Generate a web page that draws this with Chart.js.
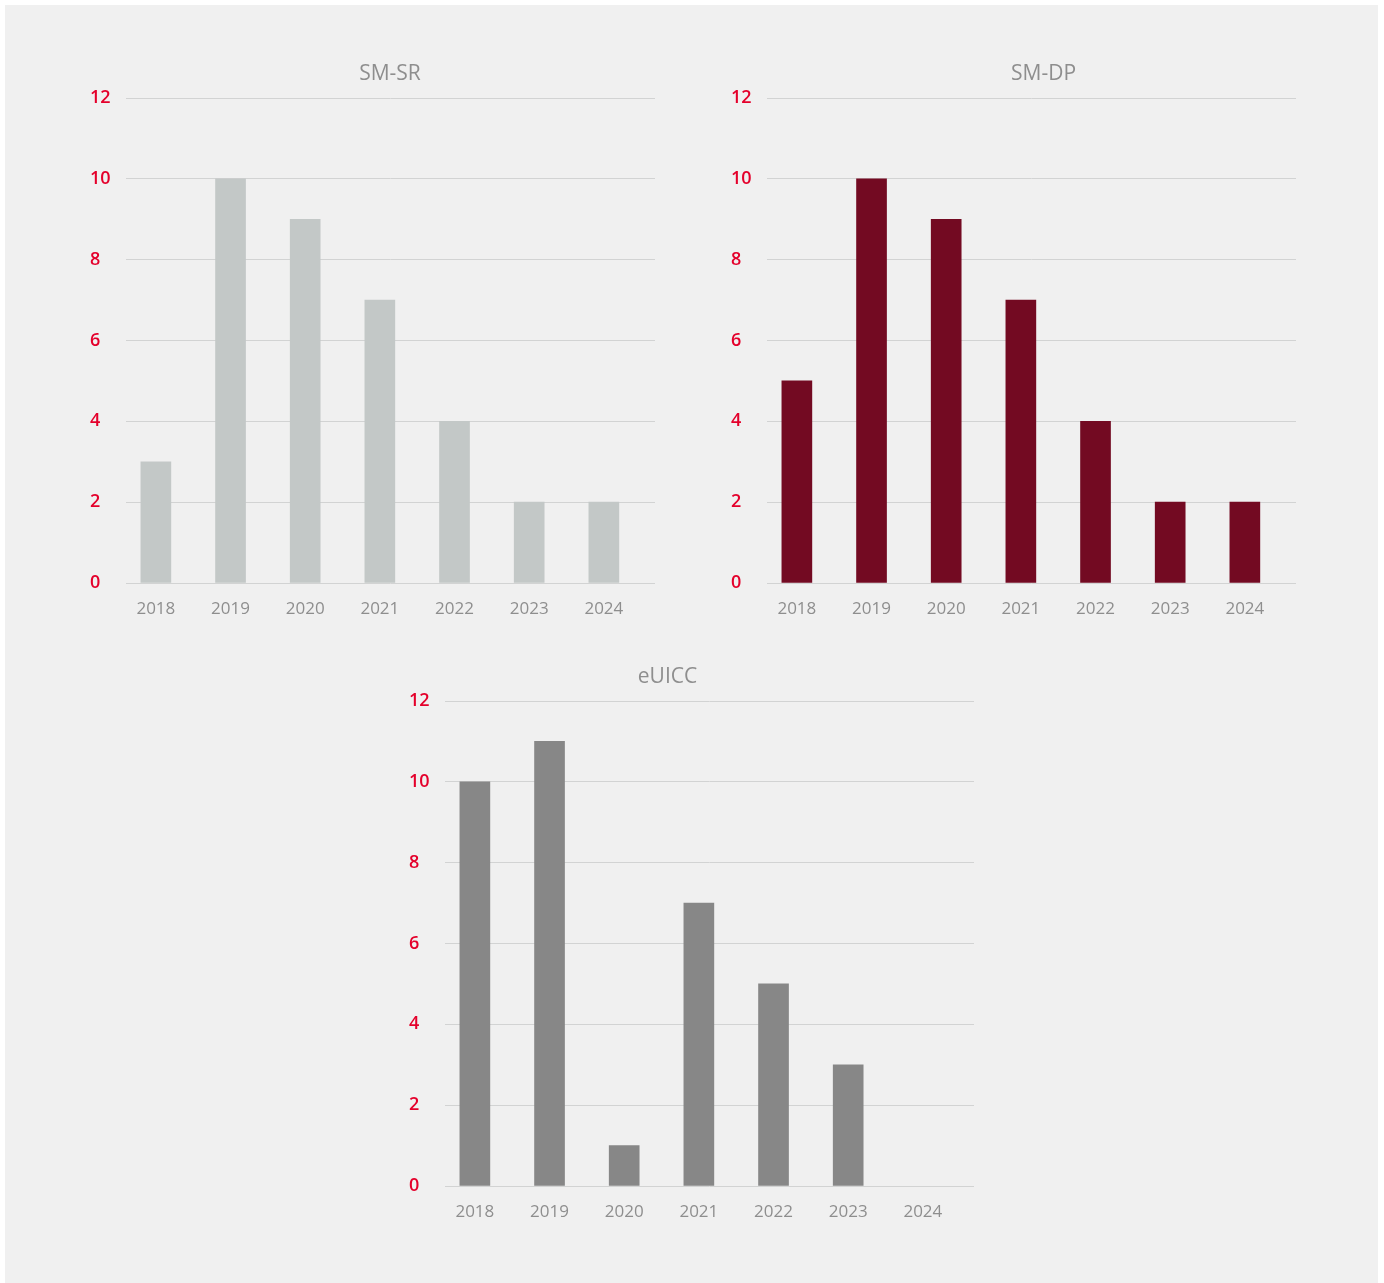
<!DOCTYPE html>
<html>
<head>
<meta charset="utf-8">
<script src="https://cdn.jsdelivr.net/npm/chart.js@4/dist/chart.umd.min.js"></script>
<style>
  html, body { margin: 0; padding: 0; background: #ffffff; }
  body { width: 1384px; height: 1283px; position: relative; overflow: hidden; }
  #panel { position: absolute; left: 5px; top: 5px; width: 1373px; height: 1278px; background: #f0f0f0; }
  canvas { position: absolute; }
</style>
</head>
<body>
<div id="panel"></div>
<canvas id="c1" width="630" height="600" style="left:70px;top:40px;"></canvas>
<canvas id="c2" width="655" height="600" style="left:711px;top:40px;"></canvas>
<canvas id="c3" width="643" height="600" style="left:341px;top:643px;"></canvas>
<script>
// ---- data ----
const years = ['2018', '2019', '2020', '2021', '2022', '2023', '2024'];
const smsrValues = [3, 10, 9, 7, 4, 2, 2];
const smdpValues = [5, 10, 9, 7, 4, 2, 2];
const euiccValues = [10, 11, 1, 7, 5, 3, 0];
const chartTitles = ['SM-SR', 'SM-DP', 'eUICC'];
const yMin = 0, yMax = 12, yStep = 2;

// ---- styles ----
const barColors = ['#c3c8c7', '#730a22', '#878787'];
const gridColor = '#d2d3d3';
const tickRed = '#e4002b';
const labelGray = '#8e8e8e';

Chart.defaults.font.family = "'Open Sans', 'Noto Sans', sans-serif";

function makeChart(canvasId, title, values, color, leftExtra, rightExtra) {
  const points = values.map((v, i) => ({ x: i, y: v }));
  return new Chart(document.getElementById(canvasId), {
    type: 'bar',
    data: {
      datasets: [{
        label: title,
        data: points,
        backgroundColor: (ctx) => (ctx.raw && ctx.raw.y === 0 ? 'rgba(0,0,0,0)' : color),
        borderWidth: 0,
        barThickness: 30
      }]
    },
    options: {
      responsive: false,
      animation: false,
      layout: { padding: { left: 20, right: 10, top: 0, bottom: 4.6 } },
      plugins: {
        legend: { display: false },
        tooltip: { enabled: false },
        title: {
          display: true,
          text: title,
          color: labelGray,
          font: { size: 21, weight: 'normal', lineHeight: 1.2 },
          padding: { top: 21.9, bottom: 10.9 }
        }
      },
      scales: {
        x: {
          type: 'linear',
          bounds: 'data',
          offset: false,
          min: -0.4,
          max: 6.685,
          grid: { display: false, drawTicks: false, offset: false },
          border: { display: false },
          afterBuildTicks: (scale) => { scale.ticks = years.map((_, i) => ({ value: i })); },
          ticks: {
            autoSkip: false,
            maxRotation: 0,
            padding: 16,
            color: labelGray,
            font: { size: 17, lineHeight: 1.2 },
            callback: (v) => years[v]
          }
        },
        y: {
          min: yMin,
          max: yMax,
          weight: 0,
          grid: { color: gridColor, lineWidth: 1, drawTicks: false },
          border: { display: false },
          afterFit: (scale) => { scale.width = 36; },
          ticks: {
            stepSize: yStep,
            crossAlign: 'far',
            color: tickRed,
            font: { size: 18, weight: 600 }
          }
        },
        padL: {
          axis: 'y',
          type: 'linear',
          position: 'left',
          weight: 10,
          grid: { display: false, drawTicks: false },
          border: { display: false },
          ticks: { display: false },
          afterFit: (scale) => { scale.width = leftExtra; }
        },
        padR: {
          axis: 'y',
          type: 'linear',
          position: 'right',
          weight: 10,
          grid: { display: false, drawTicks: false },
          border: { display: false },
          ticks: { display: false },
          afterFit: (scale) => { scale.width = rightExtra; }
        }
      }
    }
  });
}

makeChart('c1', chartTitles[0], smsrValues, barColors[0], 0, 35);
makeChart('c2', chartTitles[1], smdpValues, barColors[1], 0, 60);
makeChart('c3', chartTitles[2], euiccValues, barColors[2], 48, 0);
</script>
</body>
</html>
